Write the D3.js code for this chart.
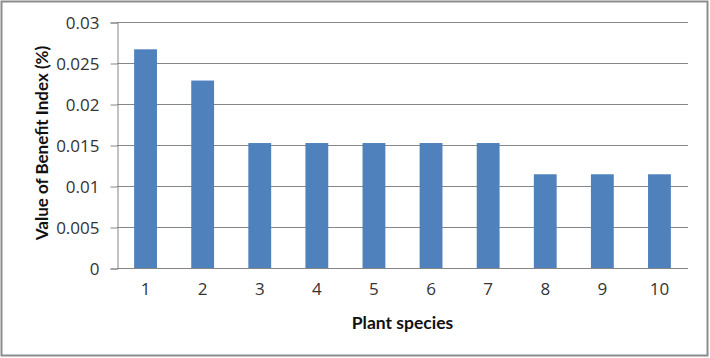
<!DOCTYPE html>
<head>
    <meta charset="UTF-8" />
    <style>
        body { margin: 0; padding: 0; background: #fff; }
        svg { display: block; font-family: Lato, "Open Sans", sans-serif; }
        .tick text { fill: #333; font-size: 17px; font-family: "Open Sans", sans-serif; }
    </style>
</head>
<svg width="710" height="358"></svg>
<script src="https://d3js.org/d3.v7.min.js"></script>
<script>
    // chart values
    const species = ["1", "2", "3", "4", "5", "6", "7", "8", "9", "10"];
    const benefit = [0.02667, 0.02286, 0.01524, 0.01524, 0.01524, 0.01524, 0.01524, 0.01143, 0.01143, 0.01143];
    const yTicks = [0, 0.005, 0.01, 0.015, 0.02, 0.025, 0.03];

    const svg = d3.select("svg");
    const m = { left: 117, right: 688, top: 22, bottom: 268 };

    // outer frame
    svg.append("rect")
        .attr("x", 1.5).attr("y", 1.5)
        .attr("width", 706).attr("height", 354)
        .attr("fill", "#fff")
        .attr("stroke", "#8c8c8c")
        .attr("stroke-width", 2);

    const x = d3.scaleBand().domain(species).range([m.left, m.right]).paddingInner(0.6).paddingOuter(0.3);
    const y = d3.scaleLinear().domain([0, 0.03]).range([m.bottom, m.top]);

    // gridlines
    svg.append("g").selectAll("line")
        .data(yTicks.slice(1))
        .enter().append("line")
        .attr("x1", m.left).attr("x2", m.right)
        .attr("y1", d => Math.round(y(d)) + 0.5).attr("y2", d => Math.round(y(d)) + 0.5)
        .attr("stroke", "#868686");

    // y axis
    const yAxis = svg.append("g")
        .attr("transform", `translate(${m.left + 0.5},0.5)`)
        .call(d3.axisLeft(y).tickValues(yTicks).tickFormat(d => d === 0 ? "0" : String(+d.toFixed(3))).tickSizeOuter(0).tickSize(7).tickPadding(11));
    yAxis.select(".domain").attr("stroke", "#868686");
    yAxis.selectAll(".tick line").attr("stroke", "#868686");
    yAxis.selectAll(".tick text").attr("dy", "0.36em");

    // bars
    svg.append("g").selectAll("rect")
        .data(benefit)
        .enter().append("rect")
        .attr("x", (d, i) => x(species[i]))
        .attr("y", d => y(d))
        .attr("width", x.bandwidth())
        .attr("height", d => m.bottom - y(d))
        .attr("fill", "#4f81bd");

    // x axis
    const xAxis = svg.append("g")
        .attr("transform", `translate(0,${m.bottom + 0.5})`)
        .call(d3.axisBottom(x).tickSize(0).tickSizeOuter(0).tickPadding(14));
    xAxis.select(".domain").attr("stroke", "#868686").attr("d", `M${m.left},0H${m.right}`);

    // axis titles
    svg.append("text")
        .attr("x", (m.left + m.right) / 2).attr("y", 329)
        .attr("text-anchor", "middle")
        .attr("font-size", 17.5).attr("font-weight", "bold").attr("fill", "#111")
        .text("Plant species");

    svg.append("text")
        .attr("transform", "translate(48,143) rotate(-90)")
        .attr("text-anchor", "middle")
        .attr("font-size", 17).attr("font-weight", "bold").attr("fill", "#111")
        .text("Value of Benefit Index (%)");
</script>
